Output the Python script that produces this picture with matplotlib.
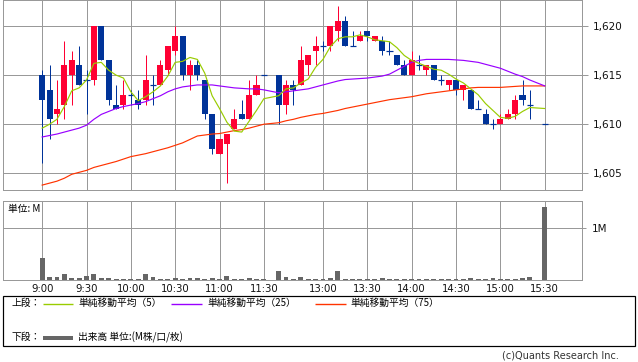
import numpy as np
import pandas as pd
import matplotlib
matplotlib.use("Agg")
import matplotlib.pyplot as plt
from matplotlib.patches import Rectangle
from matplotlib.lines import Line2D

# ---------------- data ----------------
times = ([f"{9 + m // 60}:{m % 60:02d}" for m in range(0, 151, 5)] +
         [f"{m // 60}:{m % 60:02d}" for m in range(750, 921, 5)] + ["15:30"])

opens = [1615, 1613.5, 1611, 1612, 1615, 1616, 1614.5, 1614.5, 1620, 1616.5,
         1612, 1612, 1613, 1612.5, 1612.5, 1614, 1614, 1615.5, 1617.5, 1619,
         1615, 1616, 1614.5, 1611, 1607, 1608, 1609.5, 1611, 1610.5, 1613,
         1615,
         1615, 1612, 1614, 1614, 1616, 1617.5, 1618, 1618, 1619.5, 1620.5,
         1618, 1618.5, 1619.5, 1618.5, 1618.5, 1617.5, 1617, 1616, 1615, 1616,
         1615.5, 1616, 1614.5, 1614, 1614.5, 1613.5, 1613.5, 1611.5, 1611, 1610,
         1610, 1610.5, 1611, 1613, 1612,
         1610]
highs = [1615.5, 1616, 1614.5, 1618.5, 1617.5, 1618, 1615.5, 1620, 1620, 1616.5,
         1614, 1614.5, 1613.5, 1613.5, 1617, 1615, 1616.5, 1618, 1620, 1619,
         1616.5, 1616.5, 1614.5, 1611, 1608.5, 1609, 1611.5, 1612.5, 1614.5, 1615,
         1615,
         1615, 1614.5, 1614.5, 1618, 1617, 1619, 1618.5, 1620, 1622, 1621,
         1619.5, 1619.5, 1619.5, 1619, 1619, 1618.5, 1617, 1616.5, 1617.5, 1617,
         1616, 1616, 1615, 1614.5, 1614.5, 1614, 1613.5, 1612.5, 1611.5, 1610.5,
         1611, 1611.5, 1613, 1614.5, 1613.5,
         1610]
lows = [1606, 1608.5, 1610, 1610.5, 1612, 1614, 1611, 1614, 1616.5, 1612,
        1611.5, 1611.5, 1612, 1611.5, 1612, 1612, 1614, 1615, 1617, 1614.5,
        1613.5, 1614.5, 1610.5, 1607, 1607, 1604, 1609.5, 1610.5, 1610.5, 1613,
        1615,
        1610, 1611, 1612, 1614, 1615, 1616, 1617.5, 1617.5, 1618.5, 1618,
        1618, 1618.5, 1618.5, 1618.5, 1617, 1617, 1616, 1615, 1615, 1615.5,
        1615, 1614.5, 1614, 1613.5, 1613, 1612.5, 1611.5, 1611.5, 1610, 1609.5,
        1610, 1610.5, 1610.5, 1612, 1610.5,
        1610]
closes = [1612.5, 1610.5, 1611.5, 1616, 1616.5, 1614, 1614.5, 1620, 1616.5, 1612.5,
          1611.5, 1613, 1613, 1612, 1614.5, 1614, 1616, 1618, 1619, 1615,
          1616, 1615, 1611, 1607.5, 1608.5, 1609, 1610.5, 1610.5, 1613, 1614,
          1615,
          1612, 1614, 1613.5, 1616.5, 1617, 1618, 1618, 1620, 1620.5, 1618,
          1618, 1619, 1619, 1619, 1617.5, 1617.5, 1616, 1615, 1616.5, 1616,
          1616, 1614.5, 1614.5, 1614.5, 1613.5, 1614, 1611.5, 1611.5, 1610, 1610,
          1610.5, 1611, 1612.5, 1612.5, 1612,
          1610]
prev_closes = [1608.5, 1609.0, 1609.5, 1608.5]   # last bars of the previous day

volume_m = [0.42, 0.065, 0.065, 0.116, 0.045, 0.045, 0.084, 0.116, 0.045, 0.045,
            0.026, 0.026, 0.026, 0.026, 0.116, 0.065, 0.026, 0.026, 0.045, 0.01,
            0.045, 0.045, 0.026, 0.045, 0.01, 0.084, 0.026, 0.026, 0.045, 0.026,
            0.01,
            0.174, 0.065, 0.026, 0.065, 0.026, 0.026, 0.026, 0.045, 0.174, 0.026,
            0.026, 0.01, 0.01, 0.026, 0.045, 0.01, 0.026, 0.01, 0.026, 0.01,
            0.01, 0.01, 0.01, 0.026, 0.01, 0.026, 0.045, 0.026, 0.026, 0.045,
            0.026, 0.026, 0.026, 0.045, 0.065,
            1.41]

ma25 = [1608.7, 1608.85, 1609.0, 1609.2, 1609.4, 1609.6, 1609.9, 1610.5, 1611.0, 1611.3,
        1611.6, 1611.8, 1611.95, 1612.1, 1612.3, 1612.6, 1612.9, 1613.3, 1613.6, 1613.8,
        1613.9, 1614.0, 1614.0, 1614.0, 1613.9, 1613.8, 1613.7, 1613.65, 1613.6, 1613.6,
        1613.5,
        1613.2, 1613.3, 1613.4, 1613.5, 1613.6, 1613.8, 1614.0, 1614.2, 1614.4, 1614.55,
        1614.6, 1614.65, 1614.7, 1614.8, 1614.9, 1615.1, 1615.5, 1615.9, 1616.3, 1616.5,
        1616.6, 1616.6, 1616.6, 1616.6, 1616.55, 1616.5, 1616.4, 1616.3, 1616.1, 1615.9,
        1615.7, 1615.4, 1615.1, 1614.85, 1614.5,
        1613.9]
ma75 = [1603.8, 1604.0, 1604.2, 1604.5, 1604.9, 1605.1, 1605.3, 1605.6, 1605.8, 1606.0,
        1606.2, 1606.45, 1606.7, 1606.85, 1607.0, 1607.2, 1607.4, 1607.6, 1607.85, 1608.1,
        1608.45, 1608.8, 1608.9, 1609.0, 1609.05, 1609.2, 1609.35, 1609.45, 1609.6, 1609.8,
        1610.0,
        1610.15, 1610.35, 1610.5, 1610.7, 1610.85, 1611.0, 1611.1, 1611.25, 1611.4, 1611.6,
        1611.75, 1611.9, 1612.05, 1612.2, 1612.35, 1612.5, 1612.6, 1612.7, 1612.8, 1612.95,
        1613.1, 1613.2, 1613.3, 1613.4, 1613.5, 1613.6, 1613.7, 1613.75, 1613.75, 1613.75,
        1613.75, 1613.8, 1613.85, 1613.9, 1613.9,
        1613.9]

price_ticks = [1605, 1610, 1615, 1620]
time_ticks = ["9:00", "9:30", "10:00", "10:30", "11:00", "11:30",
              "13:00", "13:30", "14:00", "14:30", "15:00", "15:30"]

# ---------------- helpers ----------------
def slot(t):
    h, m = map(int, t.split(":"))
    mins = h * 60 + m
    if mins <= 11 * 60 + 30:
        return (mins - 540) / 5
    return 32 + (mins - 750) / 5

xs = np.array([slot(t) for t in times])
ma5 = pd.Series(prev_closes + closes).rolling(5).mean().to_numpy()[len(prev_closes):]

W, H = 638, 362
PX = 72 / 100  # 1 px in points

UP = "#FF0033"
DOWN = "#003399"
GRID = "#999999"
CJK = ["Noto Sans CJK JP", "DejaVu Sans"]

fig = plt.figure(figsize=(W / 100, H / 100), dpi=100)

def fx(x): return x / W
def fy(y): return 1 - y / H

XL = (-5.26, 73.09)

# ---- price panel ----
ax1 = fig.add_axes([fx(3.3), fy(190.3), fx(582.3 - 3.3), 190.3 / H])
ax1.set_xlim(*XL)
ax1.set_ylim(1603.27, 1622.65)
for s in ax1.spines.values():
    s.set_color(GRID)
    s.set_linewidth(PX)
ax1.set_xticks([slot(t) for t in time_ticks])
ax1.set_xticklabels([])
ax1.tick_params(axis="x", length=0)
ax1.yaxis.tick_right()
ax1.set_yticks(price_ticks)
ax1.set_yticklabels([f"{v:,}" for v in price_ticks], fontsize=7.5, family="DejaVu Sans")
ax1.tick_params(axis="y", length=6 * PX, width=PX, color=GRID, pad=3, labelcolor="#111111")
ax1.grid(True, color=GRID, linewidth=PX)
ax1.set_axisbelow(True)

bw = 0.82
for x, o, h, l, c in zip(xs, opens, highs, lows, closes):
    col = UP if c > o else DOWN
    ax1.vlines(x, l, h, color=col, linewidth=PX, zorder=2)
    if c == o:
        ax1.hlines(o, x - bw / 2, x + bw / 2, color=col, linewidth=PX * 1.2, zorder=2)
    else:
        ax1.add_patch(Rectangle((x - bw / 2, min(o, c)), bw, abs(c - o),
                                facecolor=col, edgecolor="none", zorder=2))

ax1.plot(xs, ma75, color="#FF3300", linewidth=0.85, zorder=3)
ax1.plot(xs, ma25, color="#9900FF", linewidth=0.85, zorder=3)
ax1.plot(xs, ma5, color="#99CC00", linewidth=0.85, zorder=3)

# ---- volume panel ----
ax2 = fig.add_axes([fx(3.3), fy(280), fx(582.3 - 3.3), 79 / H])
ax2.set_xlim(*XL)
ax2.set_ylim(0, 1.528)
for s in ax2.spines.values():
    s.set_color(GRID)
    s.set_linewidth(PX)
ax2.set_xticks([slot(t) for t in time_ticks])
ax2.set_xticklabels(time_ticks, fontsize=7.3, family="DejaVu Sans", color="#111111")
ax2.tick_params(axis="x", length=0, pad=3)
ax2.yaxis.tick_right()
ax2.set_yticks([1])
ax2.set_yticklabels(["1M"], fontsize=7.5, family="DejaVu Sans", color="#111111")
ax2.tick_params(axis="y", length=4 * PX, width=PX, color=GRID, pad=4)
ax2.grid(True, color=GRID, linewidth=PX)
ax2.set_axisbelow(True)
ax2.bar(xs, volume_m, width=0.66, color="#666666", linewidth=0, zorder=2)
fig.text(fx(8), fy(209), "単位: M", fontsize=7, family=CJK, va="center", ha="left")

# ---- legend box ----
fig.add_artist(Rectangle((fx(3.3), fy(345.7)), fx(635 - 3.3), (345.7 - 296.3) / H,
                         transform=fig.transFigure, fill=False, edgecolor="black",
                         linewidth=PX * 1.2))

def leg_line(x0, x1, y, color, lw):
    fig.add_artist(Line2D([fx(x0), fx(x1)], [fy(y), fy(y)], transform=fig.transFigure,
                          color=color, linewidth=lw, solid_capstyle="butt"))

def leg_text(x, y, s):
    fig.text(fx(x), fy(y), s, fontsize=7, family=CJK, va="center", ha="left")

r1, r2 = 303, 337
leg_text(12, r1, "上段：")
leg_line(43, 73, r1 + 0.5, "#99CC00", 1.0)
leg_text(78, r1, "単純移動平均（5）")
leg_line(171, 202, r1 + 0.5, "#9900FF", 1.0)
leg_text(207, r1, "単純移動平均（25）")
leg_line(315, 346, r1 + 0.5, "#FF3300", 1.0)
leg_text(350, r1, "単純移動平均（75）")
leg_text(12, r2, "下段：")
leg_line(43, 73, r2 + 0.5, "#666666", 4 * PX)
leg_text(78, r2, "出来高 単位:(M株/口/枚)")

fig.text(fx(619), fy(355), "(c)Quants Research Inc.", fontsize=7, family="DejaVu Sans",
         color="#333333", va="center", ha="right")

fig.savefig("out.png", dpi=100)
